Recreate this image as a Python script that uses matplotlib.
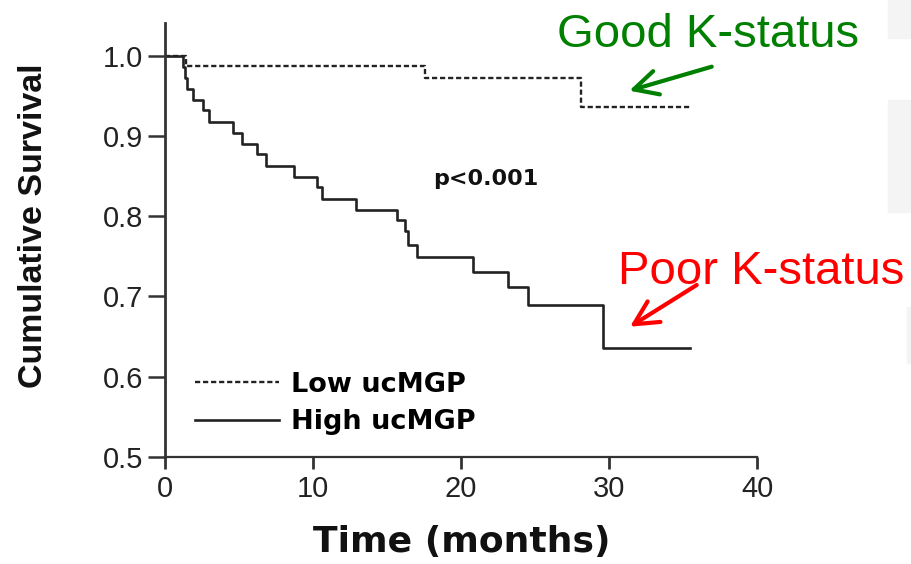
import matplotlib
matplotlib.use("Agg")
import matplotlib.pyplot as plt
from matplotlib.patches import Rectangle

plt.rcParams['font.family'] = ['Liberation Sans', 'DejaVu Sans']

# Kaplan-Meier step data (months, cumulative survival)
low_t = [0, 1.4, 17.6, 28.1, 35.5]
low_s = [1.0, 0.987, 0.972, 0.936, 0.936]

high_t = [0, 1.2, 1.35, 1.5, 1.9, 2.6, 3.0, 4.6, 5.2, 6.2, 6.8, 8.7, 10.25, 10.6,
          12.9, 15.7, 16.2, 16.4, 17.0, 20.8, 23.2, 24.5, 29.6, 35.5]
high_s = [1.0, 0.986, 0.973, 0.959, 0.945, 0.932, 0.918, 0.904, 0.890, 0.877, 0.863,
          0.849, 0.836, 0.822, 0.808, 0.795, 0.781, 0.764, 0.749, 0.730, 0.712,
          0.689, 0.635, 0.635]

x_ticks = [0, 10, 20, 30, 40]
y_ticks = [0.5, 0.6, 0.7, 0.8, 0.9, 1.0]
series_labels = ["Low ucMGP", "High ucMGP"]

W, H = 911, 564
fig = plt.figure(figsize=(W / 100, H / 100), dpi=100)
ax = fig.add_axes([165 / W, 1 - 456.7 / H, 592 / W, (456.7 - 23) / H])

ln_low, = ax.step(low_t, low_s, where='post', color='#222222', lw=1.7,
                  dashes=[2.2, 1.2])
ln_high, = ax.step(high_t, high_s, where='post', color='#222222', lw=1.9)

ax.set_xlim(0, 40)
ax.set_ylim(0.5, 1.041)
ax.set_xticks(x_ticks)
ax.set_yticks(y_ticks)
ax.set_yticklabels([f"{v:.1f}" for v in y_ticks])

for side in ['top', 'right']:
    ax.spines[side].set_visible(False)
ax.spines['left'].set_linewidth(2.0)
ax.spines['bottom'].set_linewidth(1.6)
ax.spines['left'].set_color('#333333')
ax.spines['bottom'].set_color('#333333')
ax.tick_params(axis='y', length=12, width=1.8, pad=4, labelsize=21, color='#333333',
               labelcolor='#222222')
ax.tick_params(axis='x', length=8.5, width=2.0, pad=5, labelsize=21, color='#333333',
               labelcolor='#222222')

# axis titles
fig.text(34 / W, 1 - 226 / H, "Cumulative Survival", rotation=90, ha='center',
         va='center', fontsize=24.5, fontweight='bold', color='#111111')
fig.text(462 / W, 1 - 551.7 / H, "Time (months)", ha='center', va='baseline',
         fontsize=26, fontweight='bold', family='DejaVu Sans', color='#111111')

ax.text(18.1, 0.839, "p<0.001", fontsize=16, fontweight='bold',
        family='DejaVu Sans', va='baseline', color='#111111')

ax.legend([ln_low, ln_high], series_labels, loc='center left',
          bbox_to_anchor=(195 / W, 1 - 403.5 / H), bbox_transform=fig.transFigure,
          frameon=False, borderpad=0, borderaxespad=0, handlelength=3.1,
          handletextpad=0.45, labelspacing=0.42,
          prop=dict(family='DejaVu Sans', weight='bold', size=19.5))

# group annotations
fig.text(557 / W, 1 - 46.7 / H, "Good K-status", color='#008000', fontsize=34,
         ha='left', va='baseline')
fig.text(618 / W, 1 - 284 / H, "Poor K-status", color='#ff0000', fontsize=34,
         ha='left', va='baseline')

ax.annotate('', xy=(629.3 / W, 1 - 90.7 / H), xytext=(711.7 / W, 1 - 66.7 / H),
            xycoords='figure fraction', textcoords='figure fraction',
            arrowprops=dict(arrowstyle='->,head_length=0.57,head_width=0.29',
                            lw=3, color='#008000', mutation_scale=30,
                            shrinkA=0, shrinkB=0))
ax.annotate('', xy=(630 / W, 1 - 326.7 / H), xytext=(696.7 / W, 1 - 285 / H),
            xycoords='figure fraction', textcoords='figure fraction',
            arrowprops=dict(arrowstyle='->,head_length=0.57,head_width=0.29',
                            lw=3, color='#ff0000', mutation_scale=30,
                            shrinkA=0, shrinkB=0))

# faint panels along the right edge
for x0, y0, x1, y1 in [(888, 0, 911, 38), (888, 100, 911, 212), (907, 307, 911, 363)]:
    fig.patches.append(Rectangle((x0 / W, 1 - y1 / H), (x1 - x0) / W, (y1 - y0) / H,
                                 transform=fig.transFigure, color='#f4f4f4', zorder=0))

fig.savefig("out.png", dpi=100)
